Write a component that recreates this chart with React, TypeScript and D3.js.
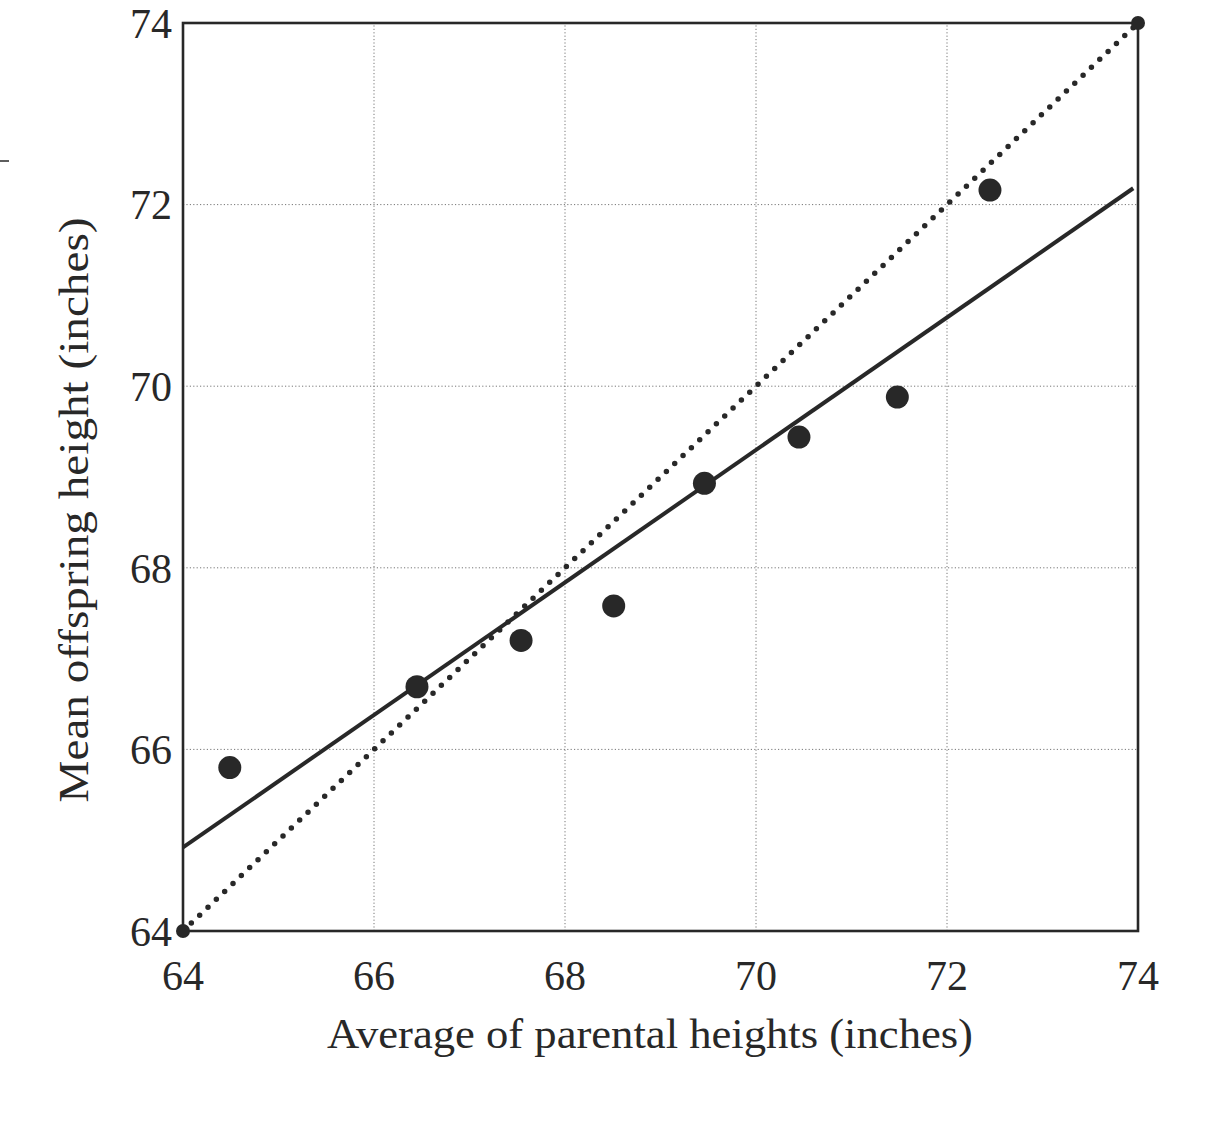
import React from "react";
import * as d3 from "d3";

// Mean offspring height against mid-parent height (inches)
const parentHeights = [64.49, 66.45, 67.54, 68.51, 69.46, 70.45, 71.48, 72.45];
const offspringHeights = [65.8, 66.69, 67.2, 67.58, 68.93, 69.44, 69.88, 72.16];

// Fitted regression line endpoints
const regressionX = [64, 73.95];
const regressionY = [64.92, 72.18];

// Line of equality (offspring = parents)
const equalityX = [64, 74];
const equalityY = [64, 74];

const tickValues = [64, 66, 68, 70, 72, 74];
const gridValues = [66, 68, 70, 72];

const xTitle = "Average of parental heights (inches)";
const yTitle = "Mean offspring height (inches)";

const W = 1226;
const H = 1132;
const FONT = "'Liberation Serif', 'Times New Roman', serif";
const INK = "#282828";

export default function App() {
  const x = d3.scaleLinear().domain([64, 74]).range([183, 1138]);
  const y = d3.scaleLinear().domain([64, 74]).range([931, 23]);

  const line = d3
    .line<[number, number]>()
    .x((d) => x(d[0]))
    .y((d) => y(d[1]));

  const regPts: [number, number][] = regressionX.map((v, i) => [v, regressionY[i]]);
  const eqPts: [number, number][] = equalityX.map((v, i) => [v, equalityY[i]]);

  const [x0, x1] = x.range();
  const [y0, y1] = y.range();

  return (
    <svg
      width={W}
      height={H}
      viewBox={`0 0 ${W} ${H}`}
      style={{ position: "absolute", left: 0, top: 0, background: "#fff" }}
    >
      <rect x={0} y={0} width={W} height={H} fill="#fff" />
      <line x1={0} x2={9} y1={161} y2={161} stroke={INK} strokeWidth={1.5} />

      {/* dotted grid */}
      <g stroke="#777" strokeWidth={1} strokeDasharray="1.2 2.2">
        {gridValues.map((v) => (
          <line key={"gx" + v} x1={x(v)} x2={x(v)} y1={y0} y2={y1} />
        ))}
        {gridValues.map((v) => (
          <line key={"gy" + v} x1={x0} x2={x1} y1={y(v)} y2={y(v)} />
        ))}
      </g>

      {/* frame */}
      <rect
        x={x0}
        y={y1}
        width={x1 - x0}
        height={y0 - y1}
        fill="none"
        stroke={INK}
        strokeWidth={2.6}
      />

      {/* line of equality */}
      <path
        d={line(eqPts) || ""}
        fill="none"
        stroke={INK}
        strokeWidth={5.5}
        strokeLinecap="round"
        strokeDasharray="0 11.5"
      />
      {eqPts.map((p, i) => (
        <circle key={"e" + i} cx={x(p[0])} cy={y(p[1])} r={7} fill={INK} />
      ))}

      {/* regression line */}
      <path
        d={line(regPts) || ""}
        fill="none"
        stroke={INK}
        strokeWidth={4}
      />

      {/* data points */}
      {parentHeights.map((v, i) => (
        <circle
          key={"p" + i}
          cx={x(v)}
          cy={y(offspringHeights[i])}
          r={11.5}
          fill={INK}
        />
      ))}

      {/* tick labels */}
      <g fontFamily={FONT} fontSize={42} fill={INK}>
        {tickValues.map((v) => (
          <text key={"yt" + v} x={x0 - 11} y={y(v)} dy="0.35em" textAnchor="end">
            {v}
          </text>
        ))}
        {tickValues.map((v) => (
          <text key={"xt" + v} x={x(v)} y={990} textAnchor="middle">
            {v}
          </text>
        ))}
      </g>

      {/* axis titles */}
      <text
        x={650}
        y={1048}
        textAnchor="middle"
        fontFamily={FONT}
        fontSize={42}
        fill={INK}
        textLength={646}
        lengthAdjust="spacingAndGlyphs"
      >
        {xTitle}
      </text>
      <text
        transform={`translate(88, 510) rotate(-90)`}
        textAnchor="middle"
        fontFamily={FONT}
        fontSize={42}
        fill={INK}
        textLength={585}
        lengthAdjust="spacingAndGlyphs"
      >
        {yTitle}
      </text>
    </svg>
  );
}
